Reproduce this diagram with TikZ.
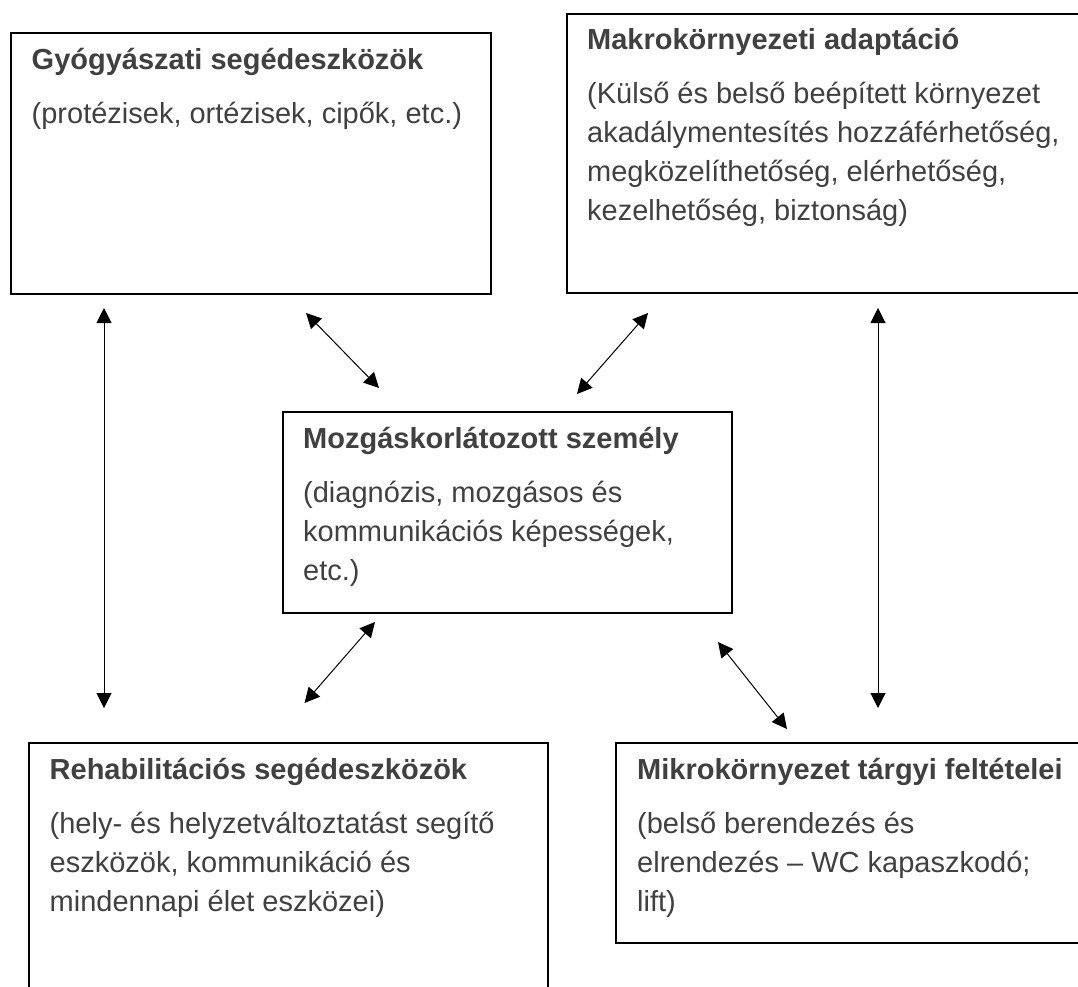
\documentclass[tikz,border=0pt]{standalone}
\usepackage{fontspec}
\setmainfont{Liberation Sans}
\usetikzlibrary{arrows.meta}
\definecolor{txtgray}{HTML}{404040}
\newcommand\mybodytext[2]{\parbox[t]{600pt}{\raggedright\textbf{#1}\\[15pt]#2}}
\tikzset{
  box/.style={draw=black, line width=2pt, rectangle, inner sep=0pt, anchor=north west},
  boxlabel/.style={anchor=base west, inner sep=0pt, text=txtgray, font=\fontsize{29}{39}\selectfont},
  link/.style={draw=black, line width=1pt, {Triangle[length=15pt,width=15pt]}-{Triangle[length=15pt,width=15pt]}},
}
\begin{document}
\begin{tikzpicture}[x=1pt,y=-1pt]
\useasboundingbox (0,0) rectangle (1078,986);
% boxes
\node[box, minimum width=480.4pt, minimum height=261pt] (b1) at (9.6,32) {};
\node[box, minimum width=530pt, minimum height=279.5pt] (b2) at (566,12.5) {};
\node[box, minimum width=449pt, minimum height=201pt] (b3) at (282,411) {};
\node[box, minimum width=519pt, minimum height=270pt] (b4) at (28,742) {};
\node[box, minimum width=480pt, minimum height=200pt] (b5) at (615,742) {};
% texts
\node[boxlabel] (t1) at (31.5,69) {\mybodytext{Gyógyászati segédeszközök}{(protézisek, ortézisek, cipők, etc.)}};
\node[boxlabel] (t2) at (587,49.5) {\mybodytext{Makrokörnyezeti adaptáció}{(Külső és belső beépített környezet\\akadálymentesítés hozzáférhetőség,\\megközelíthetőség, elérhetőség,\\kezelhetőség, biztonság)}};
\node[boxlabel] (t3) at (303,448) {\mybodytext{Mozgáskorlátozott személy}{(diagnózis, mozgásos és\\kommunikációs képességek,\\etc.)}};
\node[boxlabel] (t4) at (49.5,779) {\mybodytext{Rehabilitációs segédeszközök}{(hely- és helyzetváltoztatást segítő\\eszközök, kommunikáció és\\mindennapi élet eszközei)}};
\node[boxlabel] (t5) at (637,779) {\mybodytext{Mikrokörnyezet tárgyi feltételei}{(belső berendezés és\\elrendezés – WC kapaszkodó;\\lift)}};
% arrow end points
\coordinate (a1s) at (104,308);  \coordinate (a1e) at (104,708);
\coordinate (a2s) at (878,308);  \coordinate (a2e) at (878,708);
\coordinate (a3s) at (306,313);  \coordinate (a3e) at (379,388);
\coordinate (a4s) at (648,313);  \coordinate (a4e) at (577,394);
\coordinate (a5s) at (375,622);  \coordinate (a5e) at (304.5,703);
\coordinate (a6s) at (718,642);  \coordinate (a6e) at (787,729);
\draw[link] (a1s) -- (a1e);
\draw[link] (a2s) -- (a2e);
\draw[link] (a3s) -- (a3e);
\draw[link] (a4s) -- (a4e);
\draw[link] (a5s) -- (a5e);
\draw[link] (a6s) -- (a6e);
\end{tikzpicture}
\end{document}
